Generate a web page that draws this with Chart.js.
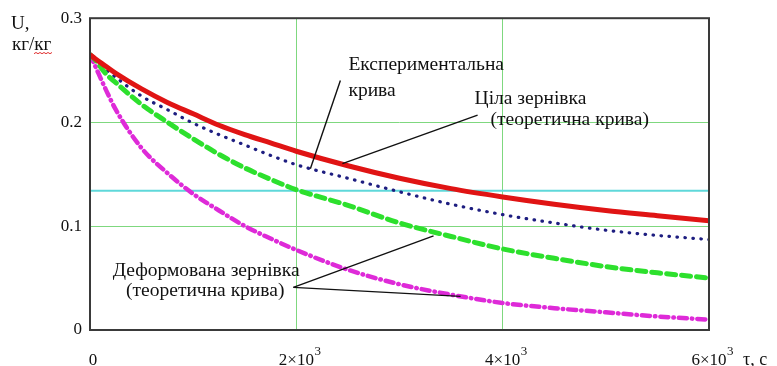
<!DOCTYPE html>
<html>
<head>
<meta charset="utf-8">
<script src="https://cdn.jsdelivr.net/npm/chart.js@4/dist/chart.umd.min.js"></script>
<style>
  html, body { margin: 0; padding: 0; background: #fff; }
  #wrap { width: 777px; height: 366px; position: relative; }
</style>
</head>
<body>
<div id="wrap"><canvas id="c" width="777" height="366"></canvas></div>
<script>
// Drying time, s
const tau = [0, 50, 150, 250, 500, 750, 1000, 1250, 1500, 1750, 2000, 2500, 3000, 3500, 4000, 4500, 5000, 5500, 6000];
// Moisture content U, kg/kg
const experimental = [0.265, 0.261, 0.254, 0.247, 0.232, 0.219, 0.208, 0.197, 0.188, 0.180, 0.172, 0.158, 0.146, 0.136, 0.128, 0.121, 0.115, 0.110, 0.105];
const wholeGrain   = [0.265, 0.260, 0.251, 0.243, 0.225, 0.212, 0.199, 0.188, 0.178, 0.168, 0.159, 0.146, 0.133, 0.121, 0.111, 0.103, 0.096, 0.091, 0.087];
const deformedA    = [0.265, 0.260, 0.247, 0.238, 0.217, 0.200, 0.184, 0.169, 0.156, 0.145, 0.135, 0.120, 0.103, 0.090, 0.078, 0.069, 0.061, 0.055, 0.050];
const deformedB    = [0.265, 0.254, 0.232, 0.212, 0.175, 0.151, 0.131, 0.115, 0.100, 0.088, 0.077, 0.058, 0.044, 0.034, 0.026, 0.021, 0.017, 0.013, 0.010];
// Half of the initial moisture content
const halfLevel = 0.134;
const halfSpan = [0, 6000];

const xTicks = [0, 2000, 4000, 6000];
const yTicks = [0, 0.1, 0.2, 0.3];

// Annotation labels and leader lines, in data units
const labelsLeft = [
  { text: 'Експериментальна', t: 2505, u: 0.2552 },
  { text: 'крива', t: 2505, u: 0.2305 },
  { text: 'Ціла зернівка', t: 3728, u: 0.2219 },
  { text: '(теоретична крива)', t: 3883, u: 0.2019 }
];
const labelsCenter = [
  { text: 'Деформована зернівка', t: 1126, u: 0.0571 },
  { text: '(теоретична крива)', t: 1117, u: 0.0381 }
];
const leaders = [
  [[2427, 0.240], [2136, 0.1552]],
  [[3757, 0.2067], [2447, 0.160]],
  [[1971, 0.041], [3330, 0.0905]],
  [[1971, 0.041], [3592, 0.0324]]
];

const pts = ys => tau.map((t, i) => ({ x: t, y: ys[i] }));
const SERIF = '"Liberation Serif", "Times New Roman", serif';

const decor = {
  id: 'decor',
  afterDraw(chart) {
    const ctx = chart.ctx;
    const a = chart.chartArea;
    const xs = chart.scales.x, ys = chart.scales.y;
    ctx.save();
    // plot frame
    ctx.strokeStyle = '#3a3a3a';
    ctx.lineWidth = 2;
    ctx.strokeRect(a.left, a.top, a.right - a.left, a.bottom - a.top);

    // x tick labels with a raised power of ten
    ctx.fillStyle = '#111';
    ctx.textBaseline = 'alphabetic';
    xs.ticks.forEach(tk => {
      const px = xs.getPixelForValue(tk.value);
      const main = tk.value === 0 ? '0' : (tk.value / 1000) + '×10';
      ctx.font = '17px ' + SERIF;
      const w = ctx.measureText(main).width;
      ctx.textAlign = 'left';
      ctx.fillText(main, px - w / 2 + (tk.value === 0 ? 3 : 0), 365);
      if (tk.value !== 0) {
        ctx.font = '13px ' + SERIF;
        ctx.fillText('3', px + w / 2 + 0.5, 355);
      }
    });

    // leader lines
    ctx.strokeStyle = '#111';
    ctx.lineWidth = 1.4;
    leaders.forEach(l => {
      ctx.beginPath();
      ctx.moveTo(xs.getPixelForValue(l[0][0]), ys.getPixelForValue(l[0][1]));
      ctx.lineTo(xs.getPixelForValue(l[1][0]), ys.getPixelForValue(l[1][1]));
      ctx.stroke();
    });

    // annotation text
    ctx.fillStyle = '#111';
    ctx.font = '19.5px ' + SERIF;
    ctx.textBaseline = 'middle';
    ctx.textAlign = 'left';
    labelsLeft.forEach(l => ctx.fillText(l.text, xs.getPixelForValue(l.t), ys.getPixelForValue(l.u)));
    ctx.textAlign = 'center';
    labelsCenter.forEach(l => ctx.fillText(l.text, xs.getPixelForValue(l.t), ys.getPixelForValue(l.u)));

    // axis titles
    ctx.textAlign = 'left';
    ctx.textBaseline = 'alphabetic';
    ctx.font = '19px ' + SERIF;
    ctx.fillText('U,', 11, 29);
    ctx.font = '19px ' + SERIF;
    ctx.fillText('кг/кг', 12, 50);
    // spell-check squiggle under the second unit
    ctx.strokeStyle = '#e03030';
    ctx.lineWidth = 1;
    ctx.beginPath();
    for (let x = 34; x <= 53; x += 2) {
      const y = 52.5 + ((x / 2) % 2 === 0 ? 0 : 1.2);
      if (x === 34) ctx.moveTo(x, y); else ctx.lineTo(x, y);
    }
    ctx.stroke();
    ctx.font = '18px ' + SERIF;
    ctx.fillText('τ, с', 743, 365);
    ctx.restore();
  }
};

const gridGreen = '#7fd87f';

new Chart(document.getElementById('c'), {
  type: 'line',
  data: {
    datasets: [
      {
        data: halfSpan.map(t => ({ x: t, y: halfLevel })),
        borderColor: '#5fd8da', borderWidth: 2, pointRadius: 0, order: 5
      },
      {
        data: pts(wholeGrain),
        borderColor: '#1e1e80', borderWidth: 3.2, borderDash: [0.5, 7.5], borderCapStyle: 'round',
        pointRadius: 0, cubicInterpolationMode: 'monotone', order: 3
      },
      {
        data: pts(deformedA),
        borderColor: '#2de02d', borderWidth: 5, borderDash: [9, 6], borderCapStyle: 'round',
        pointRadius: 0, cubicInterpolationMode: 'monotone', order: 2
      },
      {
        data: pts(deformedB),
        borderColor: '#de2ad8', borderWidth: 4.5, borderDash: [8, 5, 0.5, 5], borderCapStyle: 'round',
        pointRadius: 0, cubicInterpolationMode: 'monotone', order: 2
      },
      {
        data: pts(experimental),
        borderColor: '#e01414', borderWidth: 5, pointRadius: 0,
        cubicInterpolationMode: 'monotone', order: 1
      }
    ]
  },
  options: {
    responsive: false,
    animation: false,
    events: [],
    layout: { padding: { top: 15, right: 68, left: 0, bottom: 0 } },
    plugins: { legend: { display: false }, tooltip: { enabled: false } },
    scales: {
      x: {
        type: 'linear', min: 0, max: 6000,
        afterFit(s) { s.height = 36; },
        afterBuildTicks(s) { s.ticks = xTicks.map(v => ({ value: v })); },
        border: { display: false },
        grid: {
          drawTicks: false, lineWidth: 1,
          color: c => (c.tick && (c.tick.value === 0 || c.tick.value === 6000)) ? 'rgba(0,0,0,0)' : gridGreen
        },
        ticks: { display: false }
      },
      y: {
        type: 'linear', min: 0, max: 0.3,
        afterFit(s) { s.width = 90; },
        afterBuildTicks(s) { s.ticks = yTicks.map(v => ({ value: v })); },
        border: { display: false },
        grid: {
          drawTicks: false, lineWidth: 1,
          color: c => (c.tick && (c.tick.value === 0 || Math.abs(c.tick.value - 0.3) < 1e-9)) ? 'rgba(0,0,0,0)' : gridGreen
        },
        ticks: {
          padding: 8, color: '#111',
          font: { family: SERIF, size: 17 },
          callback: v => v === 0 ? '0' : Number(v).toFixed(1)
        }
      }
    }
  },
  plugins: [decor]
});
</script>
</body>
</html>
